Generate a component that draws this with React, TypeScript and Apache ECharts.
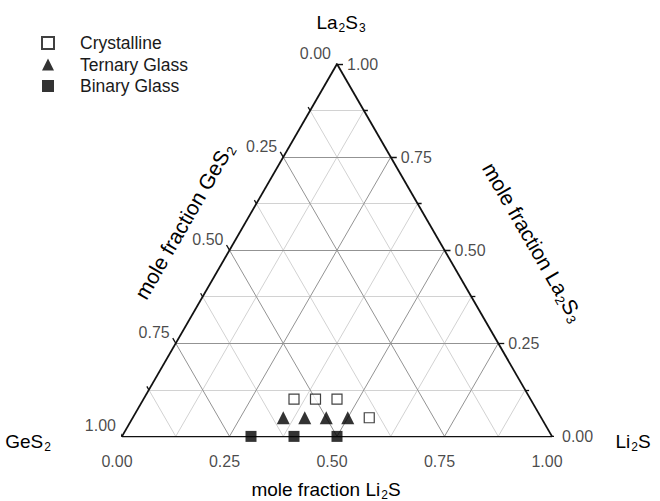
import React, { useEffect, useRef } from "react";
import * as echarts from "echarts";

// Compositions: Li2S mole fraction (b) and La2S3 mole fraction (c); GeS2 = 1 - b - c
const crystallineLi2S = [0.35, 0.4, 0.45, 0.55];
const crystallineLa2S3 = [0.1, 0.1, 0.1, 0.05];
const ternaryLi2S = [0.35, 0.4, 0.45, 0.5];
const ternaryLa2S3 = [0.05, 0.05, 0.05, 0.05];
const binaryLi2S = [0.3, 0.4, 0.5];
const binaryLa2S3 = [0, 0, 0];

const gridSteps = [0.125, 0.25, 0.375, 0.5, 0.625, 0.75, 0.875];
const tickSteps = [0, 0.125, 0.25, 0.375, 0.5, 0.625, 0.75, 0.875, 1];
const labelValues = [0, 0.25, 0.5, 0.75, 1];
const labelTexts = ["0.00", "0.25", "0.50", "0.75", "1.00"];

const FONT = "Liberation Sans, Arial, Helvetica, sans-serif";
const S3 = Math.sqrt(3) / 2;
const tern = (b: number, c: number) => [b + c / 2, c * S3];
const isMajor = (t: number) => Math.abs(t * 4 - Math.round(t * 4)) < 1e-9;

export default function App() {
  const ref = useRef<HTMLDivElement>(null);
  useEffect(() => {
    if (!ref.current) return;
    const chart = echarts.init(ref.current, null, { renderer: "svg" });
    const minor: any[] = [];
    const major: any[] = [];
    gridSteps.forEach((t) => {
      const arr = isMajor(t) ? major : minor;
      arr.push({ coords: [tern(0, t), tern(1 - t, t)] });
      arr.push({ coords: [tern(t, 0), tern(t, 1 - t)] });
      arr.push({ coords: [tern(1 - t, 0), tern(0, 1 - t)] });
    });
    const frame = [
      { coords: [tern(0, 0), tern(1, 0)] },
      { coords: [tern(1, 0), tern(0, 1)] },
      { coords: [tern(0, 1), tern(0, 0)] },
    ];
    const unit = 1 / 430;
    const ticks: any[] = [];
    tickSteps.forEach((t) => {
      const L = (isMajor(t) ? 6 : 4) * unit;
      const pb = tern(t, 0);
      ticks.push({ coords: [pb, [pb[0] - 0.5 * L, pb[1] - S3 * L]] });
      const pr = tern(1 - t, t);
      ticks.push({ coords: [pr, [pr[0] + L, pr[1]]] });
      const pl = tern(0, 1 - t);
      ticks.push({ coords: [pl, [pl[0] - 0.5 * L, pl[1] + S3 * L]] });
    });

    const bottomLabels = labelValues.map((v, i) => ({ value: tern(v, 0), name: labelTexts[i] }));
    const rightLabels = labelValues.map((v, i) => ({ value: tern(1 - v, v), name: labelTexts[i] }));
    const leftLabels = labelValues.map((v, i) => ({ value: tern(0, 1 - v), name: labelTexts[i] }));

    const sub = { fontFamily: FONT, fontSize: 12, color: "#1a1a1a", padding: [11, 0, 0, 1] };
    const big = { fontFamily: FONT, fontSize: 19, color: "#1a1a1a" };
    const subR = { fontFamily: FONT, fontSize: 13, color: "#1a1a1a", padding: [12, 0, 0, 1] };
    const bigR = { fontFamily: FONT, fontSize: 21, color: "#1a1a1a" };

    chart.setOption({
      animation: false,
      grid: { left: 122, top: 64, width: 430, height: 430 * S3 },
      xAxis: { type: "value", min: 0, max: 1, show: false },
      yAxis: { type: "value", min: 0, max: S3, show: false },
      legend: {
        orient: "vertical",
        left: 36,
        top: 29,
        itemWidth: 12,
        itemHeight: 12,
        itemGap: 3.5,
        selectedMode: false,
        textStyle: { fontFamily: FONT, fontSize: 17.5, color: "#1a1a1a", padding: [0, 0, 0, 21], lineHeight: 17.5 },
        data: ["Crystalline", "Ternary Glass", "Binary Glass"],
      },
      series: [
        { type: "lines", coordinateSystem: "cartesian2d", silent: true, z: 1, lineStyle: { color: "#d2d2d2", width: 1, opacity: 1 }, data: minor },
        { type: "lines", coordinateSystem: "cartesian2d", silent: true, z: 2, lineStyle: { color: "#939393", width: 1, opacity: 1 }, data: major },
        { type: "lines", coordinateSystem: "cartesian2d", silent: true, z: 3, lineStyle: { color: "#111", width: 1.8, opacity: 1 }, data: frame },
        { type: "lines", coordinateSystem: "cartesian2d", silent: true, z: 3, lineStyle: { color: "#111", width: 1.3, opacity: 1 }, data: ticks },
        {
          type: "scatter", silent: true, symbolSize: 0, data: bottomLabels,
          label: { show: true, position: "bottom", distance: 17, offset: [-5, 0], formatter: (p: any) => p.name, fontFamily: FONT, fontSize: 16, color: "#1a1a1a" },
        },
        {
          type: "scatter", silent: true, symbolSize: 0, data: rightLabels,
          label: { show: true, position: "right", distance: 10, formatter: (p: any) => p.name, fontFamily: FONT, fontSize: 16, color: "#1a1a1a" },
        },
        {
          type: "scatter", silent: true, symbolSize: 0, data: leftLabels,
          label: { show: true, position: "left", distance: 6, offset: [0, -11], formatter: (p: any) => p.name, fontFamily: FONT, fontSize: 16, color: "#1a1a1a" },
        },
        {
          name: "Crystalline", type: "scatter", z: 5, symbol: "rect", symbolSize: 10,
          itemStyle: { color: "#fff", borderColor: "#111", borderWidth: 1.2 },
          data: crystallineLi2S.map((b, i) => tern(b, crystallineLa2S3[i])),
        },
        {
          name: "Ternary Glass", type: "scatter", z: 5, symbol: "triangle", symbolSize: 13,
          itemStyle: { color: "#000" },
          data: ternaryLi2S.map((b, i) => tern(b, ternaryLa2S3[i])),
        },
        {
          name: "Binary Glass", type: "scatter", z: 5, symbol: "rect", symbolSize: 11,
          itemStyle: { color: "#000" },
          data: binaryLi2S.map((b, i) => tern(b, binaryLa2S3[i])),
        },
      ],
      graphic: [
        {
          type: "text", x: 341, y: 22,
          style: { text: "{n|La}{s|2}{n|S}{s|3}", rich: { n: big, s: sub }, align: "center", verticalAlign: "middle" },
        },
        {
          type: "text", x: 28, y: 441,
          style: { text: "{n|GeS}{s|2}", rich: { n: big, s: sub }, align: "center", verticalAlign: "middle" },
        },
        {
          type: "text", x: 633, y: 441,
          style: { text: "{n|Li}{s|2}{n|S}", rich: { n: big, s: sub }, align: "center", verticalAlign: "middle" },
        },
        {
          type: "text", x: 326, y: 489,
          style: { text: "{n|mole fraction Li}{s|2}{n|S}", rich: { n: big, s: sub }, align: "center", verticalAlign: "middle" },
        },
        {
          type: "text", x: 184, y: 221, rotation: Math.PI / 3,
          style: { text: "{n|mole fraction GeS}{s|2}", rich: { n: bigR, s: subR }, align: "center", verticalAlign: "middle" },
        },
        {
          type: "text", x: 533, y: 242, rotation: -Math.PI / 3,
          style: { text: "{n|mole fraction La}{s|2}{n|S}{s|3}", rich: { n: bigR, s: subR }, align: "center", verticalAlign: "middle" },
        },
      ],
    });
    return () => chart.dispose();
  }, []);
  return <div ref={ref} style={{ position: "fixed", left: 0, top: 0, width: 660, height: 501, background: "#fff" }} />;
}
